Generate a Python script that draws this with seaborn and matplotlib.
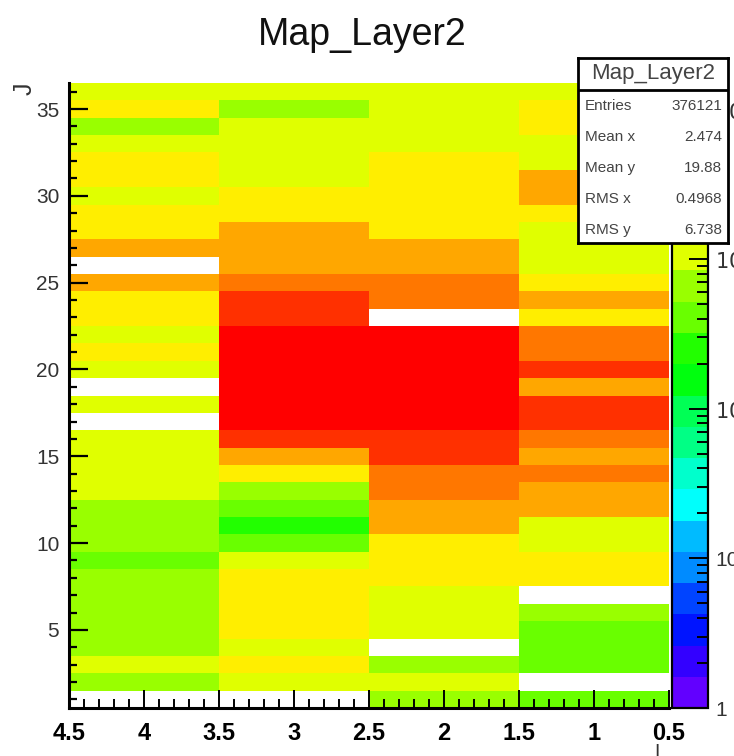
import numpy as np
import pandas as pd
import matplotlib
matplotlib.use("Agg")
import matplotlib.pyplot as plt
from matplotlib.colors import ListedColormap, LogNorm
from matplotlib.ticker import FixedLocator, FixedFormatter, NullFormatter, LogLocator
import seaborn as sns

plt.rcParams['font.family'] = ['Liberation Sans', 'DejaVu Sans']

# ---------------- data ----------------
title = "Map_Layer2"
x_centers = [4, 3, 2, 1]
y_centers = [36, 35, 34, 33, 32, 31, 30, 29, 28, 27, 26, 25, 24, 23, 22, 21, 20, 19,
             18, 17, 16, 15, 14, 13, 12, 11, 10, 9, 8, 7, 6, 5, 4, 3, 2, 1]
nan = np.nan
# bin contents per column, listed for y = 36 ... 1 (nan = empty bin)
counts_x4 = [1050, 1700, 650, 1050, 1700, 1700, 1050, 1700, 1700, 2750, nan, 2750,
             1700, 1700, 1050, 1700, 1050, nan, 1050, nan, 1050, 1050, 1050, 1050,
             650, 650, 650, 400, 650, 650, 650, 650, 650, 1050, 650, nan]
counts_x3 = [1050, 650, 1050, 1050, 1050, 1050, 1700, 1700, 2750, 2750, 2750, 4400,
             7200, 7200, 11000, 11000, 11000, 11000, 11000, 11000, 7200, 2750, 1700, 650,
             400, 250, 400, 1050, 1700, 1700, 1700, 1700, 1050, 1700, 1050, nan]
counts_x2 = [1050, 1050, 1050, 1050, 1700, 1700, 1700, 1700, 1700, 2750, 2750, 4400,
             4400, nan, 11000, 11000, 11000, 11000, 11000, 11000, 7200, 7200, 4400, 4400,
             2750, 2750, 1700, 1700, 1700, 1050, 1050, 1050, nan, 650, 1050, 650]
counts_x1 = [1050, 1700, 1700, 1050, 1050, 2750, 2750, 1700, 1050, 1050, 1050, 1700,
             2750, 1700, 4400, 4400, 7200, 2750, 7200, 7200, 4400, 2750, 4400, 2750,
             2750, 1050, 1050, 1700, 1700, nan, 650, 400, 400, 400, nan, 400]

x_tick_values = [4.5, 4, 3.5, 3, 2.5, 2, 1.5, 1, 0.5]
x_tick_labels = ["4.5", "4", "3.5", "3", "2.5", "2", "1.5", "1", "0.5"]
y_tick_values = [5, 10, 15, 20, 25, 30, 35]
y_tick_labels = ["5", "10", "15", "20", "25", "30", "35"]
z_tick_values = [1, 10, 100, 1000, 10000]
z_tick_labels = ["1", "10", r"$10^{2}$", r"$10^{3}$", r"$10^{4}$"]
z_min, z_max = 1, 15000

stats_names = ["Entries", "Mean x", "Mean y", "RMS x", "RMS y"]
stats_values = ["376121", "2.474", "19.88", "0.4968", "6.738"]

# ROOT "pretty" palette, 20 contour colours
palette = ["#6200FF", "#3300FF", "#0014FF", "#0044FF", "#008BFF", "#00BBFF",
           "#00FFFC", "#00FFCC", "#00FF85", "#00FF55", "#00FF0E", "#22FF00",
           "#69FF00", "#99FF00", "#E0FF00", "#FFEE00", "#FFA700", "#FF7700",
           "#FF3000", "#FF0000"]

df = pd.DataFrame({4: counts_x4, 3: counts_x3, 2: counts_x2, 1: counts_x1},
                  index=y_centers)[x_centers]

# ---------------- figure ----------------
W, H = 734, 756
fig = plt.figure(figsize=(W / 100, H / 100), dpi=100)
fig.patch.set_facecolor("white")
L, R, T, B = 69, 669, 83, 708
ax = fig.add_axes([L / W, 1 - B / H, (R - L) / W, (B - T) / H])
cax = fig.add_axes([672 / W, 1 - B / H, 36 / W, (B - T) / H])

cmap = ListedColormap(palette)
sns.heatmap(df, ax=ax, cbar_ax=cax, cmap=cmap, norm=LogNorm(vmin=z_min, vmax=z_max),
            mask=df.isna(), xticklabels=False, yticklabels=False, linewidths=0)

ax.set_facecolor("white")
ax.set_xlabel("")
ax.set_ylabel("")

x_hi = max(x_centers) + 0.5
y_hi = max(y_centers) + 0.5

def xpos(v):
    return x_hi - v

def ypos(v):
    return y_hi - v

ax.xaxis.set_major_locator(FixedLocator([xpos(v) for v in x_tick_values]))
ax.xaxis.set_major_formatter(FixedFormatter(x_tick_labels))
ax.xaxis.set_minor_locator(FixedLocator([xpos(v) for v in np.arange(0.5, 4.51, 0.1)]))
ax.xaxis.set_minor_formatter(NullFormatter())
ax.yaxis.set_major_locator(FixedLocator([ypos(v) for v in y_tick_values]))
ax.yaxis.set_major_formatter(FixedFormatter(y_tick_labels))
ax.yaxis.set_minor_locator(FixedLocator([ypos(v) for v in range(1, 37)]))
ax.yaxis.set_minor_formatter(NullFormatter())

ax.tick_params(axis="x", which="major", direction="in", length=13, width=1.4,
               pad=10, labelsize=17, bottom=True, top=False, colors="black")
ax.tick_params(axis="x", which="minor", direction="in", length=6.5, width=1.4,
               bottom=True, top=False)
ax.tick_params(axis="y", which="major", direction="in", length=14, width=1.6,
               pad=7, labelsize=15, left=True, right=False, labelcolor="#333333")
ax.tick_params(axis="y", which="minor", direction="in", length=6, width=1.6,
               left=True, right=False)
for lab in ax.get_xticklabels():
    lab.set_fontweight("bold")
for s in ["left", "bottom"]:
    ax.spines[s].set_visible(True)
    ax.spines[s].set_linewidth(2.2)
    ax.spines[s].set_color("black")
for s in ["top", "right"]:
    ax.spines[s].set_visible(False)

# colour bar
cbar = ax.collections[0].colorbar
cbar.outline.set_linewidth(1.6)
cbar.outline.set_edgecolor("black")
cax.yaxis.set_ticks_position("right")
cax.yaxis.set_major_locator(FixedLocator(z_tick_values))
cax.yaxis.set_major_formatter(FixedFormatter(z_tick_labels))
cax.yaxis.set_minor_locator(LogLocator(base=10, subs=np.arange(2, 10)))
cax.yaxis.set_minor_formatter(NullFormatter())
cax.tick_params(which="major", direction="in", length=14, width=1.4, pad=5,
                labelsize=15, right=True, left=False, labelcolor="#333333")
cax.tick_params(which="minor", direction="in", length=8, width=1.4, right=True, left=False)
cax.set_ylim(z_min, z_max)

# title and axis titles
fig.text(362 / W, 1 - 45 / H, title, ha="center", va="baseline", fontsize=27, color="#111111")
fig.text(25 / W, 1 - 89 / H, "J", rotation=90, ha="center", va="center", fontsize=18, color="#333333")
fig.text(657 / W, 1 - 744 / H, "I", ha="center", va="top", fontsize=14, color="#333333")

# statistics box
sx0, sx1, sy0, sy1 = 578, 728, 58, 243
sax = fig.add_axes([sx0 / W, 1 - sy1 / H, (sx1 - sx0) / W, (sy1 - sy0) / H], zorder=10)
sax.set_facecolor("white")
sax.set_xticks([])
sax.set_yticks([])
sax.set_xlim(0, 1)
sax.set_ylim(0, 1)
for s in sax.spines.values():
    s.set_linewidth(2)
    s.set_color("black")
sep = (sy1 - 90) / (sy1 - sy0)
sax.axhline(sep, color="black", lw=2)
sax.text(0.5, (sy1 - 74) / (sy1 - sy0), title, ha="center", va="center", fontsize=16, color="#444444")
line_y = [106, 137, 168, 199, 230]
for name, val, yy in zip(stats_names, stats_values, line_y):
    fy = (sy1 - yy) / (sy1 - sy0)
    sax.text(0.045, fy, name, ha="left", va="center", fontsize=11, color="#444444")
    sax.text(0.96, fy, val, ha="right", va="center", fontsize=11, color="#444444")

fig.savefig("out.png", dpi=100)
